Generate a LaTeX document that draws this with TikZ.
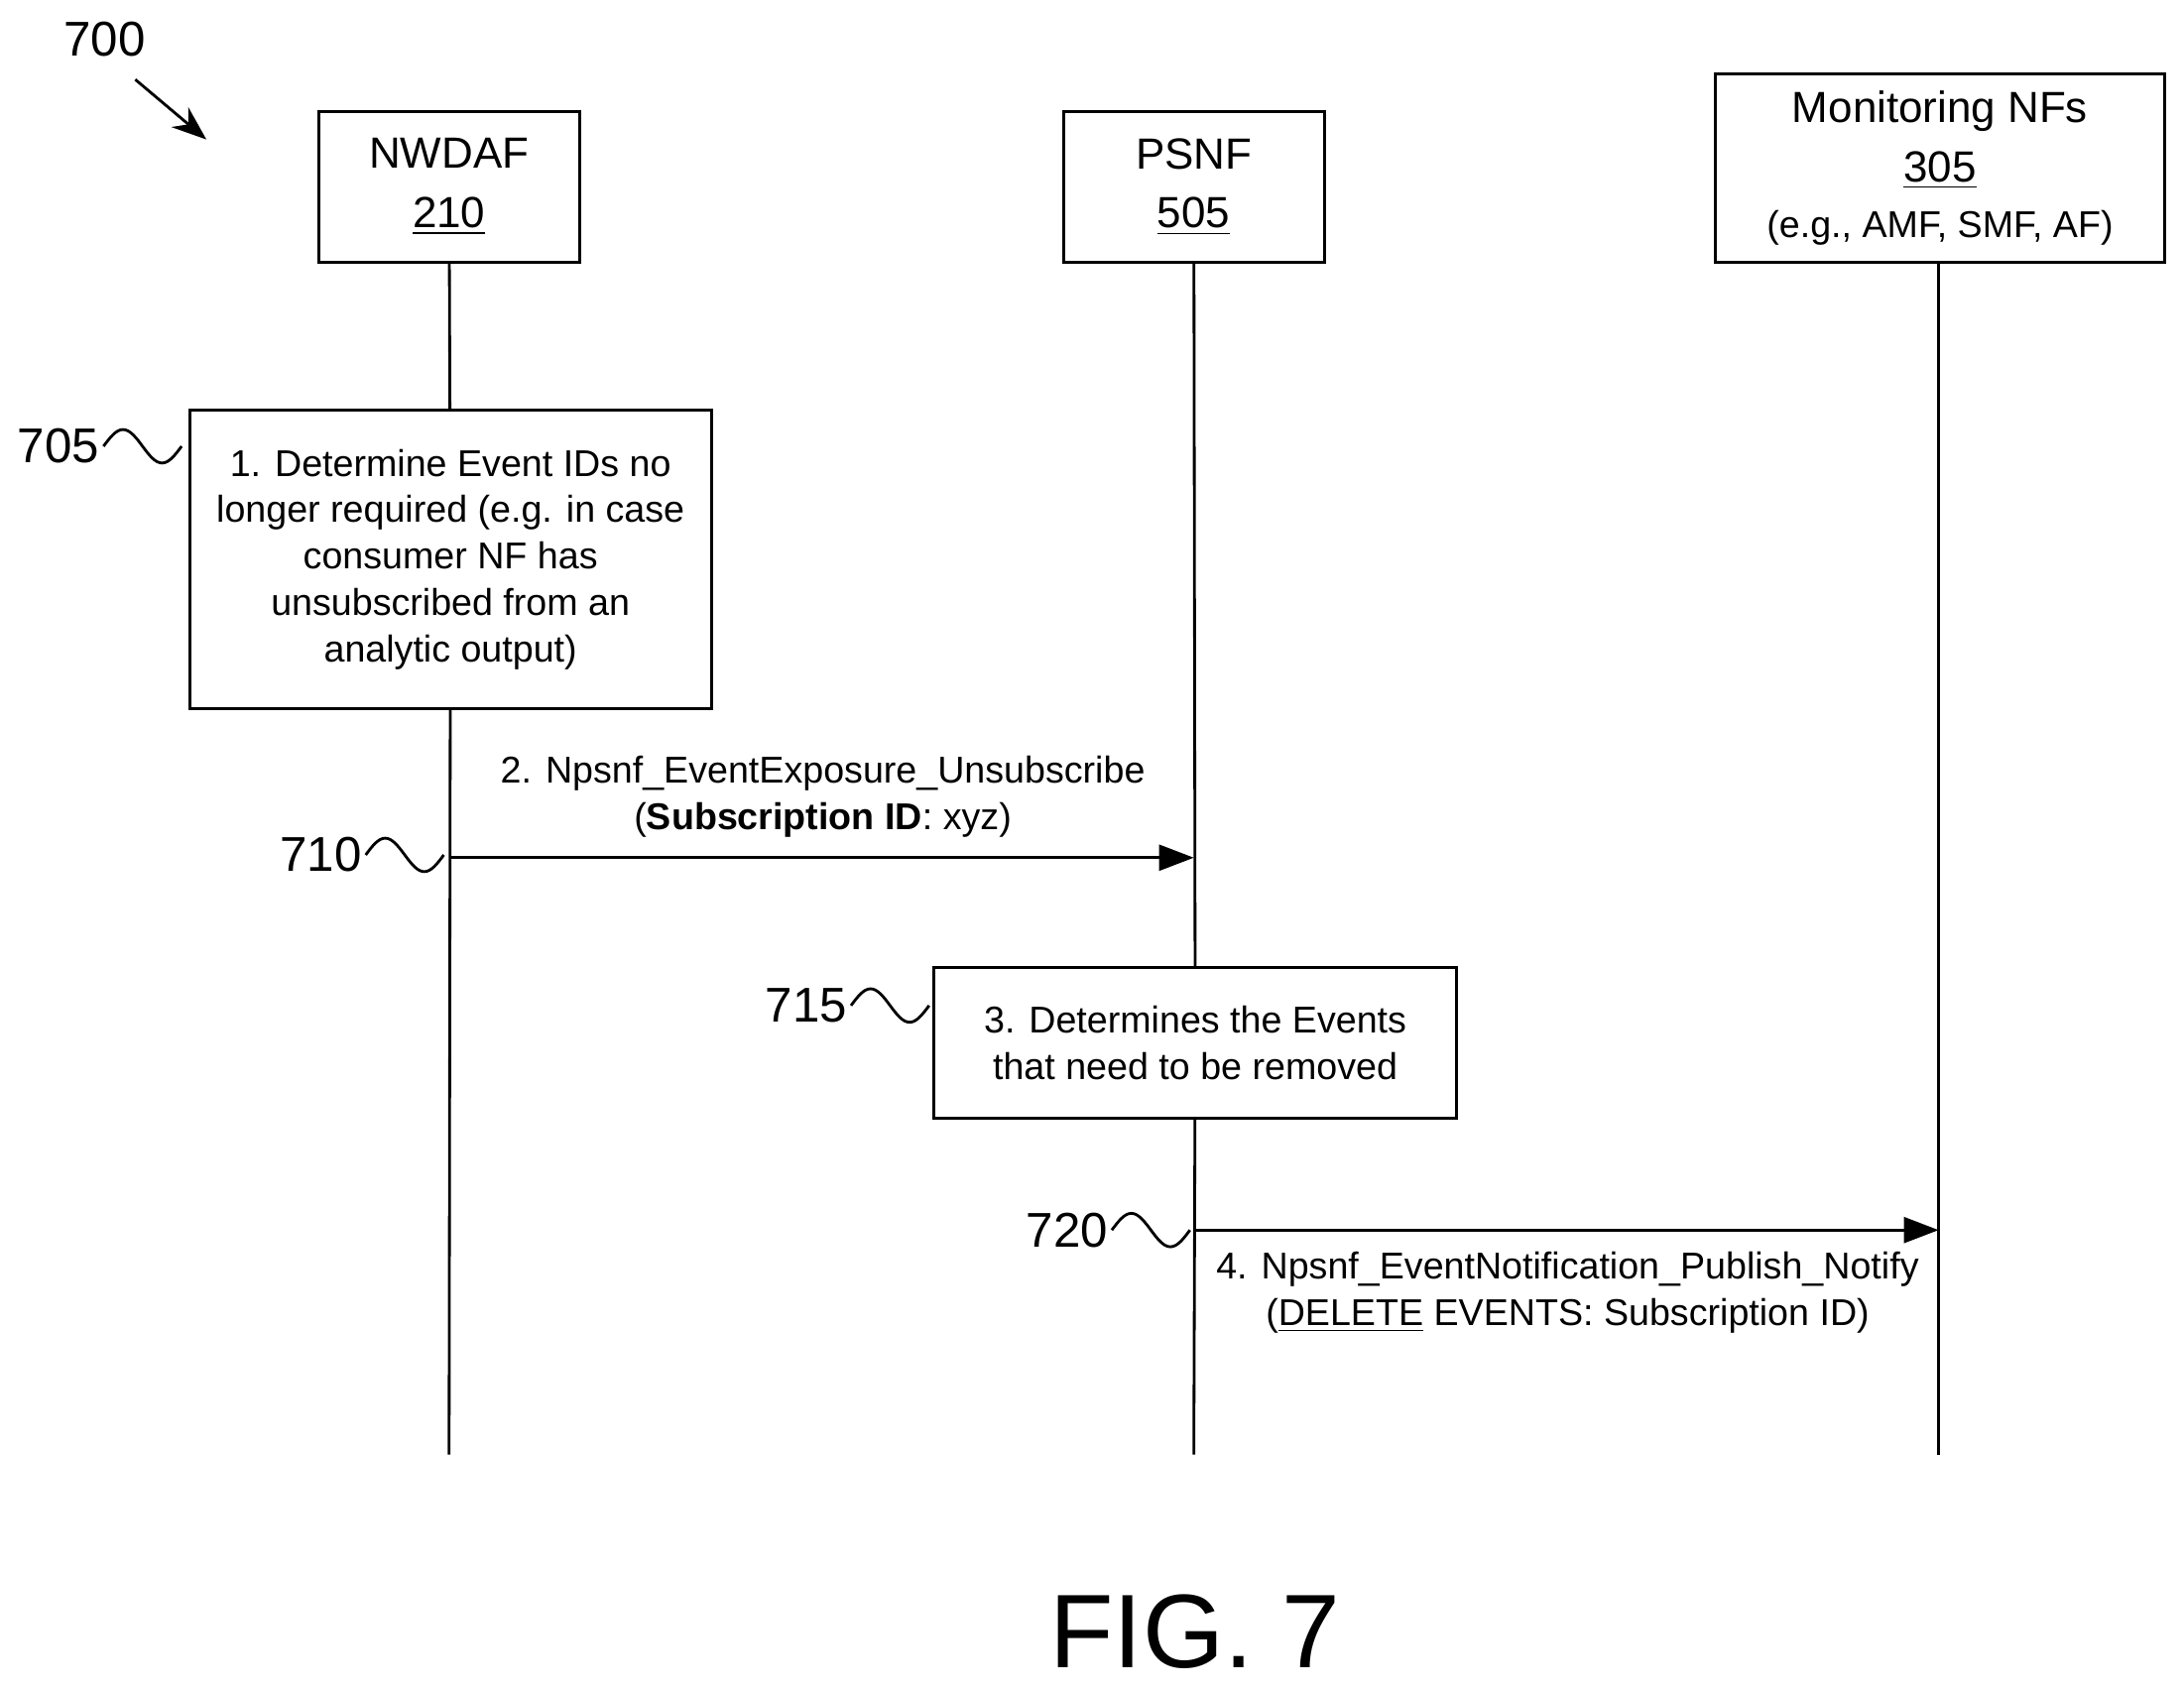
\documentclass[tikz,border=0pt]{standalone}
\usepackage{fontspec}
\setmainfont{Liberation Sans}
\usetikzlibrary{arrows.meta,positioning,calc}

\begin{document}
\begin{tikzpicture}
[x=0.01406cm,y=-0.01406cm,
    ent/.style={draw,thick,align=center,font=\fontsize{12.5}{15}\selectfont,inner sep=0pt},
    action/.style={draw,thick,align=center,font=\fontsize{10.7}{13.3}\selectfont,inner sep=0pt},
    msg/.style={align=center,font=\fontsize{10.7}{13.3}\selectfont,inner sep=1pt},
    ref/.style={font=\fontsize{14}{16}\selectfont,inner sep=1pt},
    life/.style={thick},
    call/.style={thick,-{Triangle[length=3.5mm,width=2.6mm]}},
    squig/.style={thick}]
\useasboundingbox (0,0) rectangle (1566,1213);

%% entities
\node[ent,minimum width=187*0.01406cm,minimum height=108*0.01406cm] (nwdaf) at (322,134) {NWDAF\\[2pt]\underline{210}};
\node[ent,minimum width=187*0.01406cm,minimum height=108*0.01406cm] (psnf) at (856,134) {PSNF\\[2pt]\underline{505}};
\node[ent,minimum width=322*0.01406cm,minimum height=135*0.01406cm] (mon) at (1391,120.5) {Monitoring NFs\\[2pt]\underline{305}\\[1pt]{\fontsize{10.7}{13}\selectfont (e.g., AMF, SMF, AF)}};

\coordinate (nwdafEnd) at (322,1043);
\coordinate (psnfEnd) at (856,1043);
\coordinate (monEnd) at (1390,1043);

%% steps
\node[action,minimum width=374*0.01406cm,minimum height=214*0.01406cm] (s1) at (323,401) {1. Determine Event IDs no\\longer required (e.g. in case\\consumer NF has\\unsubscribed from an\\analytic output)};
\node[action,minimum width=375*0.01406cm,minimum height=108*0.01406cm] (s3) at (857,748) {3. Determines the Events\\that need to be removed};

%% lifelines
\draw[life] (nwdaf) -- (s1);
\draw[life] (s1) -- (nwdafEnd);
\draw[life] (psnf) -- (s3);
\draw[life] (s3) -- (psnfEnd);
\draw[life] (mon.south-|monEnd) -- (monEnd);

%% messages
\coordinate (m2a) at (322,615);
\coordinate (m2b) at (856,615);
\draw[call] (m2a) -- (m2b);
\node[msg] (t2) at (590,571) {2. Npsnf\_EventExposure\_Unsubscribe\\(\textbf{Subscription ID}: xyz)};

\coordinate (m4a) at (856,882);
\coordinate (m4b) at (1390,882);
\draw[call] (m4a) -- (m4b);
\node[msg] (t4) at (1124,927) {4. Npsnf\_EventNotification\_Publish\_Notify\\(\underline{DELETE} EVENTS: Subscription ID)};

%% reference numerals
\node[ref] (n700) at (75,28) {700};
\coordinate (a700) at (97,57);
\coordinate (b700) at (148,100);
\draw[thick,-{Stealth[length=3.5mm]}] (a700) -- (b700);
\node[ref] (n705) at (42,320) {705};
\node[ref] (n710) at (230,613) {710};
\node[ref] (n715) at (578,721) {715};
\node[ref] (n720) at (765,882) {720};
\foreach \n in {705,710,715,720}
  \draw[squig] (n\n.east) sin ++(14,-12) cos ++(14,12) sin ++(14,12) cos ++(14,-12);

\node[font=\fontsize{30}{34}\selectfont] (fig) at (857,1170) {FIG. 7};
\end{tikzpicture}
\end{document}
